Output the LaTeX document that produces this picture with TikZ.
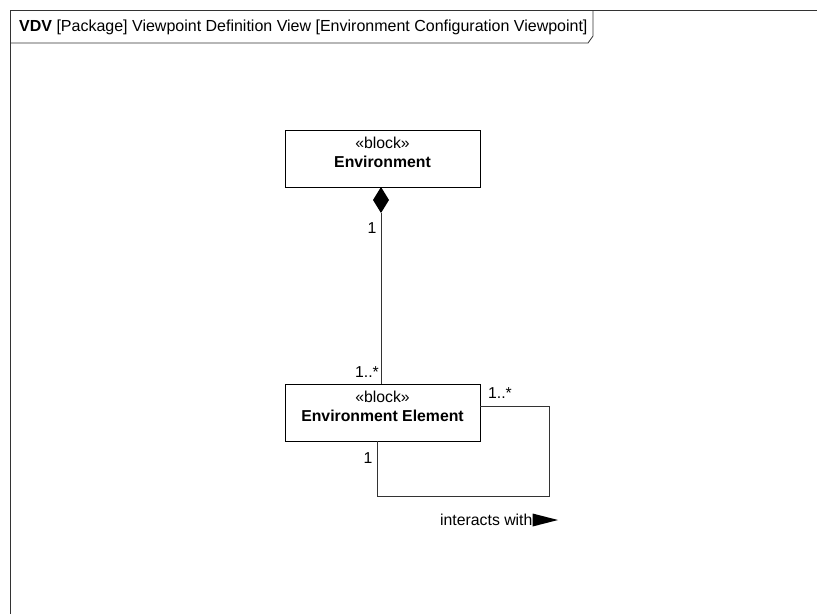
\documentclass[tikz,border=0pt]{standalone}
\usepackage{fontspec}
\setmainfont{Liberation Sans}
\begin{document}
\begin{tikzpicture}[x=1pt,y=-1pt,
  frameline/.style={draw=black!80, line width=0.8pt},
  blockbox/.style={draw=black, line width=0.6pt, fill=white, minimum width=195pt, minimum height=57pt, inner sep=0pt},
  conn/.style={draw=black!80, line width=0.6pt},
  lbl/.style={font=\fontsize{15.8}{18}\selectfont, inner sep=0pt}]
\useasboundingbox (0,0) rectangle (817,614);
% frame
\draw[frameline] (10,614) -- (10,10) -- (817,10);
\draw[frameline] (10,43) -- (588,43) -- (593,36) -- (593,10);
\node[lbl, anchor=west, font=\fontsize{16}{18}\selectfont] (title) at (19,27) {\textbf{VDV} [Package] Viewpoint Definition View [Environment Configuration Viewpoint]};
% blocks
\node[blockbox] (env) at (382.5,158.5) {};
\node[lbl] (envst) at (382.5,143) {«block»};
\node[lbl] (envnm) at (382.5,162) {\textbf{Environment}};
\node[blockbox] (ee) at (382.5,412.5) {};
\node[lbl] (eest) at (382.5,397) {«block»};
\node[lbl] (eenm) at (382.5,416) {\textbf{Environment Element}};
% composition
\coordinate (dtop) at (381,187);
\coordinate (dbot) at (381,213);
\fill[black] (dtop) -- (389,200) -- (dbot) -- (373,200) -- cycle;
\draw[conn] (dbot) -- (381,384);
\node[lbl] (m1) at (372,228) {1};
\node[lbl] (m2) at (367,372) {1..*};
\node[lbl] (m3) at (500,393) {1..*};
\node[lbl] (m4) at (368,458) {1};
% self loop
\coordinate (l1) at (549,406);
\coordinate (l2) at (549,496);
\coordinate (l3) at (377,496);
\draw[conn] (ee.east |- l1) -- (l1) -- (l2) -- (l3) -- (l3 |- ee.south);
\node[lbl, anchor=west] (iw) at (440,520) {interacts with};
\fill[black] (iw.east) ++(0,-6.5) -- ++(0,13) -- (558,520) -- cycle;
\end{tikzpicture}
\end{document}
